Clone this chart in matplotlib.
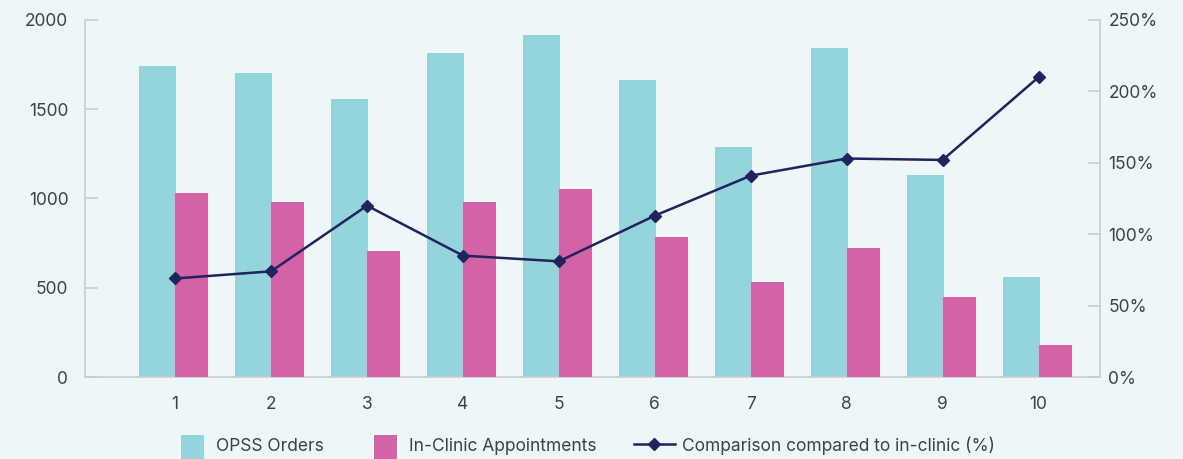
import matplotlib.pyplot as plt
import numpy as np
from matplotlib.ticker import FuncFormatter
from matplotlib.patches import Rectangle
from matplotlib.lines import Line2D
from matplotlib.legend_handler import HandlerBase

plt.rcParams['font.family'] = ['Inter', 'DejaVu Sans']

categories = [1, 2, 3, 4, 5, 6, 7, 8, 9, 10]
opss_orders = [1745, 1703, 1557, 1815, 1916, 1664, 1288, 1843, 1132, 560]
in_clinic = [1031, 980, 706, 980, 1053, 784, 532, 723, 448, 179]
comparison = [69, 74, 120, 85, 81, 113, 141, 153, 152, 210]
labels = ['OPSS Orders', 'In-Clinic Appointments', 'Comparison compared to in-clinic (%)']

bg = '#eef7f8'
teal = '#94d5db'
pink = '#d462a6'
navy = '#22225e'
grey = '#c9cccd'
txt = '#3d4345'
PT = 72 / 100  # points per pixel

fig = plt.figure(figsize=(11.83, 4.59), dpi=100, facecolor=bg)
ax = fig.add_axes([85/1183, 82/459, 1015/1183, 357/459])
ax.set_facecolor(bg)

x = np.array(categories)
ax.bar(x - 0.375, opss_orders, width=0.385, align='edge', color=teal, zorder=2)
ax.bar(x, in_clinic, width=0.344, align='edge', color=pink, zorder=3)

ax.set_xlim(0.06, 10.64)
ax.set_ylim(0, 2000)
ax.set_yticks([0, 500, 1000, 1500, 2000])
ax.set_xticks(x)

ax2 = ax.twinx()
ax2.plot(x, comparison, color=navy, lw=1.8, marker='D', ms=6, zorder=5)
ax2.set_ylim(0, 250)
ax2.set_yticks([0, 50, 100, 150, 200, 250])
ax2.yaxis.set_major_formatter(FuncFormatter(lambda v, p: f'{v:.0f}%'))

for a in (ax, ax2):
    a.spines['top'].set_visible(False)
    for s in ('left', 'right', 'bottom'):
        a.spines[s].set_color(grey)
        a.spines[s].set_linewidth(1.2)

ax.spines['right'].set_visible(False)
ax2.spines['left'].set_visible(False)
ax2.spines['bottom'].set_visible(False)

ax.tick_params(axis='y', direction='in', length=9, width=1.2, color=grey,
               labelsize=12.5, labelcolor=txt, pad=12)
ax.tick_params(axis='x', length=0, labelsize=12.5, labelcolor=txt, pad=14)
ax2.tick_params(axis='y', direction='in', length=9, width=1.2, color=grey,
                labelsize=12.5, labelcolor=txt, pad=6)


# legend handlers: tall square swatch, and a line that sticks out past its box
class SquareHandler(HandlerBase):
    def create_artists(self, legend, orig_handle, xdescent, ydescent, width, height, fontsize, trans):
        ymid = (height - ydescent) / 2
        r = Rectangle((-xdescent, ymid - 15 * PT), 23 * PT, 24 * PT,
                      facecolor=orig_handle.get_facecolor(), edgecolor='none', transform=trans)
        return [r]


class LineHandler(HandlerBase):
    def create_artists(self, legend, orig_handle, xdescent, ydescent, width, height, fontsize, trans):
        ymid = (height - ydescent) / 2
        x0, x1 = -xdescent - 13 * PT, width - xdescent + 5 * PT
        ln = Line2D([x0, x1], [ymid, ymid], color=navy, lw=1.8, transform=trans)
        mk = Line2D([(x0 + x1) / 2], [ymid], marker='D', ms=6, color=navy, lw=0, transform=trans)
        return [ln, mk]


handles = [Rectangle((0, 0), 1, 1, facecolor=teal), Rectangle((0, 0), 1, 1, facecolor=pink),
           Line2D([], [], color=navy, marker='D')]
fig.legend(handles, labels, loc='lower center', bbox_to_anchor=(0.497, -0.025),
           ncol=3, frameon=False, fontsize=12.5, labelcolor=txt,
           handlelength=23 * PT / 12.5, handleheight=1.0,
           columnspacing=50 * PT / 12.5, handletextpad=12 * PT / 12.5,
           handler_map={Rectangle: SquareHandler(), Line2D: LineHandler()})

fig.savefig('out.png', dpi=100, facecolor=bg)
